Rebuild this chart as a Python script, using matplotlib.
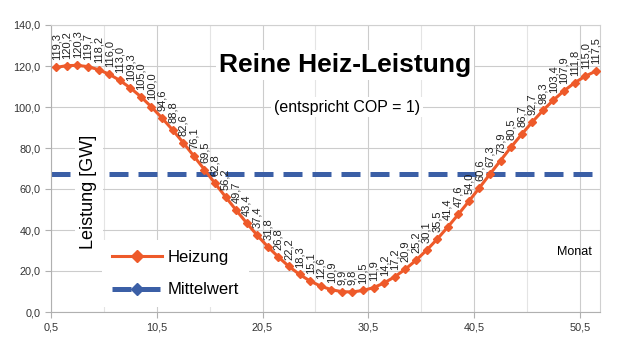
import numpy as np
import matplotlib.pyplot as plt
from matplotlib.ticker import FuncFormatter, MultipleLocator
from matplotlib.lines import Line2D

plt.rcParams['font.family'] = ['Liberation Sans', 'DejaVu Sans']

# Wochenwerte der Heizleistung in GW
wochen = np.arange(1, 53)
heizung = [119.3, 120.2, 120.3, 119.7, 118.2, 116.0, 113.0, 109.3, 105.0, 100.0,
           94.6, 88.8, 82.6, 76.1, 69.5, 62.8, 56.2, 49.7, 43.4, 37.4,
           31.8, 26.8, 22.2, 18.3, 15.1, 12.6, 10.9, 9.9, 9.8, 10.5,
           11.9, 14.2, 17.2, 20.9, 25.2, 30.1, 35.5, 41.4, 47.6, 54.0,
           60.6, 67.3, 73.9, 80.5, 86.7, 92.7, 98.3, 103.4, 107.9, 111.8,
           115.0, 117.5]
mittelwert = 67.3

orange = '#ee5a2a'
blau = '#3b5fa6'
striche = (3.8, 2.0)

def komma(v, pos=None):
    return '{:.1f}'.format(v).replace('.', ',')

fig = plt.figure(figsize=(6.2, 3.49), dpi=100)
ax = fig.add_axes([51/620, 37/349, 549/620, 287/349])

ax.plot(wochen, heizung, color=orange, lw=2.2, marker='D', ms=4.5, zorder=3)
ax.axhline(mittelwert, color=blau, lw=3.6, dashes=striche,
           dash_capstyle='butt', zorder=2)

for x, v in zip(wochen, heizung):
    ax.annotate(komma(v), (x, v), xytext=(0, 5), textcoords='offset points',
                rotation=90, ha='center', va='bottom', fontsize=8, color='#222222')

ax.set_xlim(0.5, 52.4)
ax.set_ylim(0, 140)
ax.xaxis.set_major_locator(MultipleLocator(10, offset=0.5))
ax.xaxis.set_minor_locator(MultipleLocator(5, offset=0.5))
ax.yaxis.set_major_locator(MultipleLocator(20))
ax.xaxis.set_major_formatter(FuncFormatter(komma))
ax.yaxis.set_major_formatter(FuncFormatter(komma))
ax.tick_params(labelsize=7.8, labelcolor='#333333', color='#b0b0b0', length=4)
ax.tick_params(which='minor', length=0)

ax.grid(which='major', color='#cccccc', lw=0.8)
ax.grid(which='minor', axis='x', color='#e4e4e4', lw=0.8)
for s in ax.spines.values():
    s.set_color('#d0d0d0')
ax.spines['left'].set_color('#b0b0b0')
ax.spines['bottom'].set_color('#b0b0b0')

weiss = dict(facecolor='white', edgecolor='none', pad=2)
ax.text(0.536, 0.861, 'Reine Heiz-Leistung', transform=ax.transAxes,
        ha='center', va='center', fontsize=19, fontweight='bold', bbox=weiss, zorder=4)
ax.text(0.539, 0.714, '(entspricht COP = 1)', transform=ax.transAxes,
        ha='center', va='center', fontsize=11.5, bbox=weiss, zorder=4)
ax.text(0.069, 0.418, 'Leistung [GW]', transform=ax.transAxes, rotation=90,
        ha='center', va='center', fontsize=13,
        bbox=dict(facecolor='white', edgecolor='none', pad=4), zorder=4)
ax.text(0.953, 0.209, 'Monat', transform=ax.transAxes,
        ha='center', va='center', fontsize=9, zorder=4)

handles = [Line2D([], [], color=orange, lw=2.2, marker='D', ms=6),
           Line2D([], [], color=blau, lw=3.6, dashes=striche,
                  dash_capstyle='butt', marker='D', ms=6)]
leg = ax.legend(handles, ['Heizung', 'Mittelwert'], loc='upper left',
                bbox_to_anchor=(0.078, 0.28), fontsize=12, frameon=True,
                fancybox=False, handlelength=3.0, handletextpad=0.3,
                labelspacing=1.05, borderpad=0.6)
leg.get_frame().set_facecolor('white')
leg.get_frame().set_edgecolor('none')
leg.get_frame().set_alpha(1)

fig.savefig('out.png', dpi=100, facecolor='white')
